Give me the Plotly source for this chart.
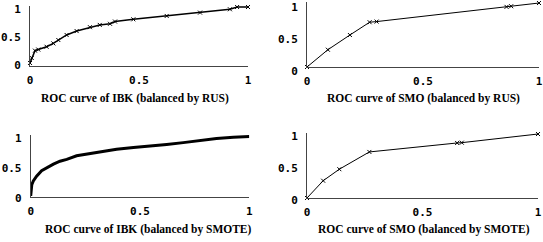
import plotly.graph_objects as go

# ---- data ----
ibk_rus_fpr = [0, 0.008, 0.023, 0.038, 0.076, 0.107, 0.13, 0.168, 0.214, 0.275, 0.32, 0.367, 0.39, 0.474, 0.627, 0.78, 0.917, 0.95, 1.0]
ibk_rus_tpr = [0, 0.09, 0.22, 0.24, 0.29, 0.35, 0.41, 0.50, 0.57, 0.64, 0.68, 0.70, 0.74, 0.78, 0.84, 0.90, 0.96, 1.0, 1.0]

smo_rus_fpr = [0, 0.09, 0.185, 0.27, 0.30, 0.86, 0.88, 1.0]
smo_rus_tpr = [0, 0.27, 0.50, 0.70, 0.71, 0.94, 0.95, 1.0]

ibk_smote_fpr = [0, 0.005, 0.012, 0.027, 0.05, 0.073, 0.104, 0.134, 0.165, 0.21, 0.27, 0.317, 0.393, 0.47, 0.546, 0.622, 0.698, 0.774, 0.85, 0.927, 1.0]
ibk_smote_tpr = [0, 0.19, 0.25, 0.33, 0.42, 0.47, 0.53, 0.58, 0.61, 0.67, 0.71, 0.74, 0.78, 0.81, 0.83, 0.86, 0.89, 0.93, 0.96, 0.98, 0.99]

smo_smote_fpr = [0, 0.07, 0.14, 0.27, 0.65, 0.67, 1.0]
smo_smote_tpr = [0, 0.27, 0.45, 0.72, 0.86, 0.865, 1.0]

tick_vals = [0, 0.5, 1]
tick_text = ["0", "0.5", "1"]

titles = [
    "ROC curve of IBK (balanced by RUS)",
    "ROC curve of SMO (balanced by RUS)",
    "ROC curve of IBK (balanced by SMOTE)",
    "ROC curve of SMO (balanced by SMOTE)",
]

W, H = 543, 242

fig = go.Figure()

series = [
    (ibk_rus_fpr, ibk_rus_tpr, 1.5, "lines+markers"),
    (smo_rus_fpr, smo_rus_tpr, 1, "lines+markers"),
    (ibk_smote_fpr, ibk_smote_tpr, 3, "lines"),
    (smo_smote_fpr, smo_smote_tpr, 1, "lines+markers"),
]

for i, (x, y, lw, mode) in enumerate(series):
    fig.add_trace(go.Scatter(
        x=x, y=y, mode=mode,
        xaxis="x" if i == 0 else f"x{i+1}",
        yaxis="y" if i == 0 else f"y{i+1}",
        line=dict(color="black", width=lw),
        marker=dict(symbol="x-thin", size=4, line=dict(color="black", width=1)),
        cliponaxis=False, showlegend=False, hoverinfo="skip",
    ))

# panel geometry in pixels: (x_left, x_right, y_bottom, y_top, yrange, label shift)
panels = [
    (30, 248, 66, 6, [-0.054, 1.018], 2),
    (307, 539, 67, 2, [0, 1.016], 4),
    (30.7, 249.3, 197, 135, [-0.017, 1.017], 2),
    (307, 538, 198, 133, [0, 1.016], 2),
]

axfont = dict(family="DejaVu Sans Mono", size=11, color="black", weight="bold")
layout = {}
for i, (xl, xr, yb, yt, yr, shift) in enumerate(panels):
    sx = "" if i == 0 else str(i + 1)
    layout[f"xaxis{sx}"] = dict(
        domain=[xl / W, xr / W], range=[0, 1], anchor=f"y{sx}",
        showline=True, linecolor="#444", linewidth=1, showgrid=False, zeroline=False,
        tickvals=tick_vals, ticktext=tick_text, ticks="", tickfont=axfont,
        ticklabelstandoff=4, automargin=False, ticklabeloverflow="allow",
    )
    layout[f"yaxis{sx}"] = dict(
        domain=[1 - yb / H, 1 - yt / H], range=yr, anchor=f"x{sx}",
        showline=True, linecolor="#444", linewidth=1, showgrid=False, zeroline=False,
        tickvals=tick_vals, ticktext=tick_text, ticks="", tickfont=axfont,
        ticklabelstandoff=6, automargin=False, ticklabeloverflow="allow",
        ticklabelshift=shift,
    )

title_pos = [(135, 98), (423, 98), (148, 229), (424, 229)]
annotations = []
for t, (cx, cy) in zip(titles, title_pos):
    annotations.append(dict(
        text=t, x=cx / W, y=1 - cy / H, xref="paper", yref="paper",
        xanchor="center", yanchor="middle", showarrow=False,
        font=dict(family="Liberation Serif", size=11.5, color="black", weight="bold"),
    ))

fig.update_layout(
    width=W, height=H, margin=dict(l=0, r=0, t=0, b=0),
    paper_bgcolor="white", plot_bgcolor="white",
    annotations=annotations, **layout,
)

fig.write_html(
    "out.html",
    config={"displayModeBar": False, "staticPlot": True},
    post_script="document.body.style.margin='0';document.body.style.overflow='hidden';",
)
